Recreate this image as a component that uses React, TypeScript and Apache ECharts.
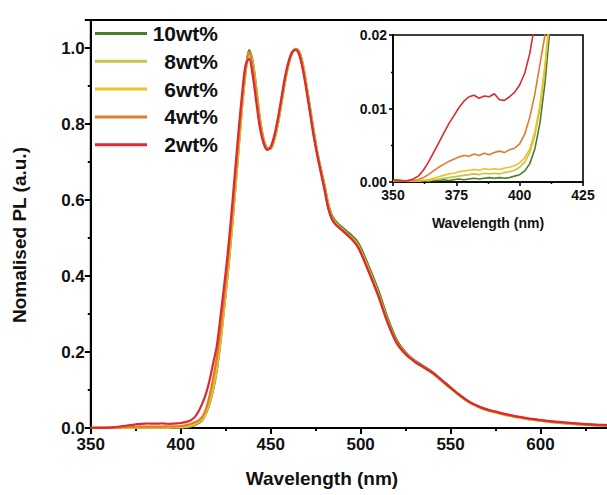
import { useEffect, useRef } from "react";
import * as echarts from "echarts";

// Wavelength grid (nm)
const wavelengths = [
  350, 352, 354, 356, 358, 360, 362, 364, 366, 368, 370, 372, 374, 376, 378, 380,
  382, 384, 386, 388, 390, 392, 394, 396, 398, 400, 402, 404, 406, 408, 410, 412,
  414, 416, 418, 420, 422, 424, 426, 428, 430, 432, 434, 436, 438, 440, 442, 444,
  446, 448, 450, 452, 454, 456, 458, 460, 462, 464, 466, 468, 470, 472, 474, 476,
  478, 480, 482, 484, 486, 488, 490, 492, 494, 496, 498, 500,
  505, 510, 515, 520, 525, 530, 535, 540, 545, 550, 555, 560, 565, 570, 575, 580,
  585, 590, 595, 600, 605, 610, 615, 620, 625, 630, 635, 640,
];

const seriesNames = ["10wt%", "8wt%", "6wt%", "4wt%", "2wt%"];

const pl10 = [
  0.0002, 0.0001, 0.0001, 0.0002, 0.0001, 0.0001, 0.0002, 0.0001, 0.0002, 0.0002,
  0.0003, 0.0002, 0.0003, 0.0004, 0.0003, 0.0004, 0.0005, 0.0004, 0.0005, 0.0006,
  0.0005, 0.0006, 0.0005, 0.0006, 0.0008, 0.001, 0.0015, 0.0025, 0.0045, 0.008,
  0.0135, 0.021,
  0.038, 0.064, 0.1, 0.15, 0.222, 0.31, 0.4, 0.5, 0.61, 0.725,
  0.84, 0.935, 0.995, 0.965, 0.895, 0.815, 0.762, 0.737, 0.735, 0.758,
  0.8, 0.855, 0.912, 0.958, 0.988, 0.998, 0.99, 0.955, 0.9, 0.84,
  0.78, 0.725, 0.68, 0.638, 0.59, 0.56, 0.545, 0.535, 0.527, 0.519,
  0.511, 0.502, 0.492, 0.475,
  0.42, 0.36, 0.29, 0.232, 0.199, 0.178, 0.163, 0.147, 0.127, 0.107,
  0.087, 0.07, 0.058, 0.049, 0.042, 0.036, 0.031, 0.027, 0.023, 0.02,
  0.017, 0.014, 0.012, 0.01, 0.009, 0.007, 0.006, 0.005,
];

const pl8 = [
  0.0001, 0.0002, 0.0001, 0.0001, 0.0002, 0.0001, 0.0002, 0.0002, 0.0003, 0.0004,
  0.0005, 0.0006, 0.0007, 0.0008, 0.0009, 0.001, 0.0011, 0.001, 0.0012, 0.0011,
  0.0012, 0.0011, 0.0013, 0.0014, 0.0016, 0.002, 0.0027, 0.004, 0.0063, 0.01,
  0.0155, 0.0225,
  0.04, 0.067, 0.104, 0.156, 0.226, 0.312, 0.402, 0.503, 0.613, 0.728,
  0.842, 0.935, 0.99, 0.96, 0.89, 0.812, 0.76, 0.736, 0.736, 0.76,
  0.802, 0.858, 0.915, 0.96, 0.988, 0.997, 0.988, 0.952, 0.897, 0.836,
  0.776, 0.722, 0.676, 0.634, 0.586, 0.556, 0.541, 0.531, 0.523, 0.514,
  0.506, 0.497, 0.486, 0.468,
  0.413, 0.352, 0.283, 0.227, 0.196, 0.176, 0.161, 0.145, 0.125, 0.105,
  0.086, 0.069, 0.057, 0.048, 0.041, 0.035, 0.03, 0.026, 0.022, 0.019,
  0.016, 0.014, 0.012, 0.01, 0.009, 0.007, 0.006, 0.005,
];

const pl6 = [
  0.0003, 0.0002, 0.0002, 0.0001, 0.0001, 0.0002, 0.0002, 0.0003, 0.0005, 0.0007,
  0.0009, 0.0011, 0.0012, 0.0014, 0.0015, 0.0016, 0.0017, 0.0016, 0.0018, 0.0017,
  0.0018, 0.0017, 0.0019, 0.002, 0.0022, 0.0026, 0.0033, 0.0045, 0.0068, 0.0105,
  0.016, 0.023,
  0.042, 0.07, 0.108, 0.16, 0.23, 0.316, 0.408, 0.508, 0.618, 0.732,
  0.845, 0.937, 0.985, 0.955, 0.885, 0.808, 0.758, 0.735, 0.737, 0.762,
  0.805, 0.86, 0.917, 0.961, 0.989, 0.996, 0.986, 0.95, 0.894, 0.833,
  0.773, 0.719, 0.673, 0.631, 0.583, 0.553, 0.538, 0.528, 0.52, 0.511,
  0.503, 0.494, 0.483, 0.465,
  0.41, 0.349, 0.28, 0.225, 0.195, 0.175, 0.16, 0.144, 0.124, 0.104,
  0.085, 0.068, 0.056, 0.047, 0.041, 0.035, 0.03, 0.026, 0.022, 0.019,
  0.016, 0.014, 0.012, 0.01, 0.008, 0.007, 0.006, 0.005,
];

const pl4 = [
  0.0002, 0.0003, 0.0002, 0.0001, 0.0002, 0.0003, 0.0006, 0.001, 0.0015, 0.002,
  0.0024, 0.0028, 0.0031, 0.0034, 0.0036, 0.0035, 0.0038, 0.0036, 0.0039, 0.0037,
  0.004, 0.0042, 0.004, 0.0044, 0.0046, 0.0052, 0.0065, 0.0088, 0.012, 0.016,
  0.02, 0.03,
  0.05, 0.085, 0.13, 0.185, 0.255, 0.34, 0.43, 0.53, 0.64, 0.752,
  0.86, 0.945, 0.99, 0.948, 0.875, 0.802, 0.756, 0.733, 0.738, 0.766,
  0.81, 0.866, 0.922, 0.964, 0.99, 0.996, 0.983, 0.945, 0.889, 0.829,
  0.769, 0.717, 0.671, 0.628, 0.58, 0.551, 0.537, 0.528, 0.52, 0.511,
  0.502, 0.492, 0.481, 0.463,
  0.408, 0.347, 0.279, 0.225, 0.195, 0.175, 0.16, 0.145, 0.125, 0.105,
  0.086, 0.069, 0.057, 0.048, 0.042, 0.036, 0.031, 0.027, 0.023, 0.02,
  0.017, 0.015, 0.013, 0.011, 0.009, 0.008, 0.007, 0.006,
];

const pl2 = [
  0.0003, 0.0002, 0.0001, 0.0002, 0.0004, 0.0008, 0.0016, 0.0027, 0.004, 0.0053,
  0.0066, 0.0079, 0.009, 0.0101, 0.011, 0.0116, 0.0118, 0.0114, 0.0117, 0.0116,
  0.012, 0.0112, 0.0111, 0.0116, 0.0122, 0.0132, 0.0148, 0.0175, 0.0215, 0.03,
  0.045, 0.065,
  0.09, 0.125, 0.17, 0.215, 0.29, 0.37, 0.455, 0.555, 0.665, 0.775,
  0.875, 0.955, 0.972, 0.928, 0.857, 0.79, 0.75, 0.732, 0.74, 0.77,
  0.815, 0.87, 0.925, 0.965, 0.99, 0.995, 0.98, 0.94, 0.885, 0.825,
  0.765, 0.715, 0.67, 0.625, 0.578, 0.55, 0.536, 0.527, 0.519, 0.511,
  0.502, 0.492, 0.48, 0.462,
  0.405, 0.345, 0.277, 0.224, 0.194, 0.175, 0.16, 0.145, 0.126, 0.106,
  0.087, 0.07, 0.058, 0.049, 0.043, 0.037, 0.032, 0.028, 0.024, 0.021,
  0.018, 0.016, 0.014, 0.012, 0.01, 0.009, 0.008, 0.007,
];

const seriesValues = [pl10, pl8, pl6, pl4, pl2];
const seriesColors = ["#4a7d2a", "#c8c24a", "#f0c020", "#e07a30", "#dc2a30"];

const mainXTicks = { min: 350, max: 650, interval: 50 };
const mainYTicks = { min: 0, max: 1.074, interval: 0.2 };
const insetXTicks = { min: 350, max: 425, interval: 25 };
const insetYTicks = { min: 0, max: 0.02, interval: 0.01 };

const FONT = "'Liberation Sans', Arial, sans-serif";

export default function App() {
  const ref = useRef<HTMLDivElement>(null);

  useEffect(() => {
    if (!ref.current) return;
    const chart = echarts.init(ref.current, undefined, { renderer: "svg" });

    const axisCommon = {
      axisLine: { show: true, onZero: false, lineStyle: { color: "#000", width: 2 } },
      splitLine: { show: false },
    };

    const mainSeries = seriesNames.map((name, k) => ({
      name,
      type: "line",
      xAxisIndex: 0,
      yAxisIndex: 0,
      data: wavelengths.map((w, i) => [w, seriesValues[k][i]]),
      symbol: "none",
      smooth: 0.3,
      lineStyle: { color: seriesColors[k], width: 2.2 },
      itemStyle: { color: seriesColors[k] },
      clip: true,
    }));

    const insetSeries = seriesNames.map((name, k) => ({
      name,
      type: "line",
      xAxisIndex: 1,
      yAxisIndex: 1,
      data: wavelengths.map((w, i) => [w, seriesValues[k][i]]),
      symbol: "none",
      smooth: false,
      lineStyle: { color: seriesColors[k], width: 1.6 },
      itemStyle: { color: seriesColors[k] },
      clip: true,
    }));

    chart.setOption({
      animation: false,
      backgroundColor: "#fff",
      textStyle: { fontFamily: FONT },
      grid: [
        {
          left: 90.8,
          top: 20,
          width: 539.7,
          height: 408,
          outerBoundsMode: "none",
          containLabel: false,
          show: true,
          borderColor: "#000",
          borderWidth: 2,
          backgroundColor: "transparent",
        },
        {
          left: 393,
          top: 35,
          width: 190,
          height: 147,
          outerBoundsMode: "none",
          containLabel: false,
          show: true,
          borderColor: "#000",
          borderWidth: 1.6,
          backgroundColor: "transparent",
        },
      ],
      xAxis: [
        {
          type: "value",
          gridIndex: 0,
          ...mainXTicks,
          ...axisCommon,
          axisTick: { show: true, inside: false, length: 6, lineStyle: { color: "#000", width: 2 } },
          minorTick: { show: true, splitNumber: 2, length: 3, lineStyle: { color: "#000", width: 2 } },
          axisLabel: {
            color: "#111",
            fontSize: 17,
            fontWeight: "bold",
            fontFamily: FONT,
            margin: 8,
            showMaxLabel: false,
          },
        },
        {
          type: "value",
          gridIndex: 1,
          ...insetXTicks,
          ...axisCommon,
          axisLine: { show: true, onZero: false, lineStyle: { color: "#000", width: 1.6 } },
          axisTick: { show: true, inside: false, length: 4, lineStyle: { color: "#000", width: 1.6 } },
          minorTick: { show: true, splitNumber: 2, length: 2, lineStyle: { color: "#000", width: 1.4 } },
          axisLabel: {
            color: "#111",
            fontSize: 14,
            fontWeight: "bold",
            fontFamily: FONT,
            margin: 6,
          },
          name: "Wavelength (nm)",
          nameLocation: "middle",
          nameGap: 34,
          nameTextStyle: { color: "#111", fontSize: 14, fontWeight: "bold", fontFamily: FONT },
        },
      ],
      yAxis: [
        {
          type: "value",
          gridIndex: 0,
          ...mainYTicks,
          ...axisCommon,
          axisTick: { show: true, inside: false, length: 6, lineStyle: { color: "#000", width: 2 } },
          minorTick: { show: true, splitNumber: 2, length: 3, lineStyle: { color: "#000", width: 2 } },
          axisLabel: {
            color: "#111",
            fontSize: 17,
            fontWeight: "bold",
            fontFamily: FONT,
            margin: 6,
            showMaxLabel: false,
            formatter: (v: number) => v.toFixed(1),
          },
        },
        {
          type: "value",
          gridIndex: 1,
          ...insetYTicks,
          ...axisCommon,
          axisLine: { show: true, onZero: false, lineStyle: { color: "#000", width: 1.6 } },
          axisTick: { show: true, inside: false, length: 4, lineStyle: { color: "#000", width: 1.6 } },
          minorTick: { show: true, splitNumber: 2, length: 2, lineStyle: { color: "#000", width: 1.4 } },
          axisLabel: {
            color: "#111",
            fontSize: 14,
            fontWeight: "bold",
            fontFamily: FONT,
            margin: 6,
            formatter: (v: number) => v.toFixed(2),
          },
        },
      ],
      legend: {
        data: seriesNames,
        orient: "vertical",
        left: 95,
        top: 23,
        padding: 0,
        icon: "rect",
        itemWidth: 52,
        itemHeight: 3,
        itemGap: 6.8,
        selectedMode: false,
        formatter: (name: string) => `{t|${name}}`,
        textStyle: {
          color: "#111",
          fontSize: 21,
          fontWeight: "bold",
          fontFamily: FONT,
          rich: {
            t: {
              width: 66,
              height: 18,
              lineHeight: 18,
              align: "right",
              fontSize: 21,
              fontWeight: "bold",
              fontFamily: FONT,
              color: "#111",
            },
          },
        },
      },
      graphic: [
        {
          type: "text",
          x: 322,
          y: 478,
          style: {
            text: "Wavelength (nm)",
            fontSize: 19,
            fontWeight: "bold",
            fontFamily: FONT,
            fill: "#111",
            align: "center",
            verticalAlign: "middle",
          },
        },
        {
          type: "text",
          x: 19,
          y: 235,
          rotation: Math.PI / 2,
          style: {
            text: "Nomalised PL (a.u.)",
            fontSize: 19,
            fontWeight: "bold",
            fontFamily: FONT,
            fill: "#111",
            align: "center",
            verticalAlign: "middle",
          },
        },
      ],
      series: [...mainSeries, ...insetSeries],
    });

    return () => {
      chart.dispose();
    };
  }, []);

  return (
    <div
      ref={ref}
      style={{ position: "absolute", left: 0, top: 0, width: 607, height: 495 }}
    />
  );
}
